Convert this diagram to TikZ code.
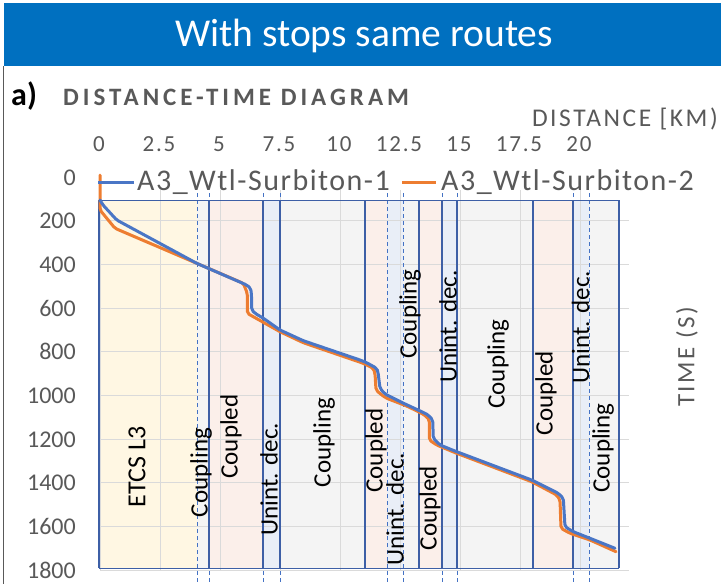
\documentclass[tikz,border=0pt]{standalone}
\usepackage{fontspec}
\setmainfont{Carlito}
\newfontfamily\tickfont[LetterSpace=8]{Carlito}
\newfontfamily\headfont[LetterSpace=16]{Carlito}
\newfontfamily\axfont[LetterSpace=10]{Carlito}
\newfontfamily\legfont[LetterSpace=5]{Carlito}
\definecolor{titleblue}{HTML}{0070C0}
\definecolor{axgrey}{HTML}{595959}
\definecolor{gridc}{HTML}{DADADA}
\definecolor{bandline}{HTML}{3D5FA6}
\definecolor{dashc}{HTML}{4472C4}
\definecolor{etcs}{HTML}{FFF7E3}
\definecolor{cpld}{HTML}{FBEFEA}
\definecolor{unint}{HTML}{E9EEF7}
\definecolor{cplg}{HTML}{F4F4F4}
\definecolor{sone}{HTML}{4A76C6}
\definecolor{stwo}{HTML}{ED7D31}
\begin{document}
\begin{tikzpicture}[x=1pt,y=-1pt,
  bandlabel/.style={rotate=90,inner sep=0pt,font=\fontsize{25}{30}\selectfont},
  ticklab/.style={inner sep=0pt,text=axgrey,font=\tickfont\fontsize{23}{28}\selectfont},
  ylab/.style={inner sep=0pt,anchor=base east,text=axgrey,font=\fontsize{24}{28}\selectfont},
  legtext/.style={inner sep=0pt,anchor=base west,text=axgrey,font=\legfont\fontsize{30}{34}\selectfont},
  series/.style={line width=3pt,line join=round,line cap=round,rounded corners=2pt},
  gridline/.style={gridc,line width=1pt},
  dashline/.style={dashc,line width=1pt,dash pattern=on 4pt off 3pt},
  solidline/.style={bandline,line width=1.5pt}]
\useasboundingbox (0,0) rectangle (721,584);
\fill[white] (0,0) rectangle (721,584);
% title bar
\node[fill=titleblue,inner sep=0pt,minimum width=717pt,minimum height=63pt,anchor=north west] (bar) at (4,3) {};
\node[text=white,inner sep=0pt,font=\fontsize{39.5}{44}\selectfont] (title) at (364,36) {With stops same routes};
\draw[axgrey,line width=1.5pt] (3.5,66) -- (3.5,584);
% headings
\node[anchor=base west,inner sep=0pt,font=\fontsize{32}{36}\selectfont\bfseries] (alab) at (11,105) {a)};
\node[anchor=base west,inner sep=0pt,text=axgrey,font=\headfont\bfseries\fontsize{25}{28}\selectfont] (dtd) at (63,105.3) {DISTANCE-TIME DIAGRAM};
\node[anchor=base east,inner sep=0pt,text=axgrey,font=\axfont\fontsize{25.5}{28}\selectfont] (xtitle) at (718,126.7) {DISTANCE [KM)};
\node[rotate=90,inner sep=0pt,text=axgrey,font=\axfont\fontsize{25}{30}\selectfont] (ytitle) at (687,357) {TIME (S)};
% band fills
\foreach \xa/\xb/\col in {99/197/etcs,197/209/cplg,209/263/cpld,263/280/unint,280/365/cplg,365/387/cpld,387/403/unint,403/419/cplg,419/442/cpld,442/457/unint,457/533/cplg,533/573/cpld,573/589/unint,589/619/cplg}
  \fill[\col] (\xa,200) rectangle (\xb,568);
% grid
\foreach \k in {1,...,9}
  \draw[gridline] (100,177+43.7*\k) -- (629,177+43.7*\k);
\foreach \k in {0,...,8}
  \draw[gridline] (100+60*\k,190) -- (100+60*\k,570);
% dashed boundaries
\foreach \xx in {197,209,263,280,387,403,442,457,573,589}
  \draw[dashline] (\xx,193) -- (\xx,584);
% solid boundaries
\foreach \xx in {99,209,263,280,365,419,442,457,533,573,619}
  \draw[solidline] (\xx,200) -- (\xx,568);
\draw[bandline,line width=1pt] (99,200) -- (619,200);
\draw[bandline,line width=1pt] (99,568) -- (619,568);
% tick labels
\foreach \k/\l in {0/0,1/2.5,2/5,3/7.5,4/10,5/12.5,6/15,7/17.5,8/20}
  \node[ticklab,anchor=base] (xt\k) at (99+60*\k,151.5) {\l};
\foreach \k/\l in {0/0,1/200,2/400,3/600,4/800,5/1000,6/1200,7/1400,8/1600,9/1800}
  \node[ylab] (yt\k) at (76,185+43.7*\k) {\l};
% band labels
\node[bandlabel,font=\fontsize{26}{30}\selectfont] (b1) at (137,467) {ETCS L3};
\node[bandlabel] (b2) at (201,472.5) {Coupling};
\node[bandlabel] (b3) at (231,436.5) {Coupled};
\node[bandlabel] (b4) at (269,479) {Unint. dec.};
\node[bandlabel] (b5) at (324,442.5) {Coupling};
\node[bandlabel] (b6) at (376,450.5) {Coupled};
\node[bandlabel] (b7) at (395,509) {Unint. dec.};
\node[bandlabel] (b8) at (410,314) {Coupling};
\node[bandlabel] (b9) at (430,508) {Coupled};
\node[bandlabel] (b10) at (448,326.7) {Unint. dec.};
\node[bandlabel] (b11) at (498,364) {Coupling};
\node[bandlabel] (b12) at (546,393) {Coupled};
\node[bandlabel] (b13) at (580.5,327) {Unint. dec.};
\node[bandlabel] (b14) at (603,448) {Coupling};
% series 2 (orange)
\draw[series,stwo] (100,175) -- (100,210) -- (115,228.3) -- (196.7,263.3) -- (243.3,283.3) -- (247.3,293.3) -- (247.3,313.3) -- (253.3,316.7) -- (280,331.7) -- (303.3,342.7) -- (363.3,363.3) -- (373.3,368.3) -- (375,373.3) -- (376,390) -- (381.7,395) -- (386.7,398.3) -- (406.7,406) -- (421.7,413.3) -- (426.7,416.7) -- (429.3,420) -- (429.3,440) -- (436.7,445) -- (456.7,453.3) -- (531.7,481.7) -- (556.7,495) -- (560,500) -- (561,528.3) -- (570,533.3) -- (590,540) -- (616,551.7);
% series 1 (blue)
\draw[series,sone] (100,200) -- (103,205) -- (116.7,220) -- (196.7,263.3) -- (246.7,285) -- (250.7,288.3) -- (251.5,295) -- (251.7,310) -- (255,313.3) -- (263,318) -- (280,330) -- (303.3,340.7) -- (360,360) -- (366.7,362.7) -- (376.7,368.3) -- (378,372) -- (380,388.3) -- (385,394) -- (403,403) -- (421.7,411.7) -- (428.3,415) -- (432.7,420) -- (433.3,438.3) -- (440,445) -- (456.7,451.7) -- (531.7,480) -- (558.3,493.3) -- (563.3,498.3) -- (565,526.7) -- (573.3,531.7) -- (590,538.3) -- (615,548.3);
% legend
\coordinate (l1a) at (98,182.3);
\coordinate (l1b) at (134,182.3);
\coordinate (l2a) at (402,182.3);
\coordinate (l2b) at (436,182.3);
\draw[sone,line width=3pt] (l1a) -- (l1b);
\draw[stwo,line width=3pt] (l2a) -- (l2b);
\node[legtext] (leg1) at (137,190.7) {A3\_Wtl-Surbiton-1};
\node[legtext] (leg2) at (441,190.7) {A3\_Wtl-Surbiton-2};
\end{tikzpicture}
\end{document}
